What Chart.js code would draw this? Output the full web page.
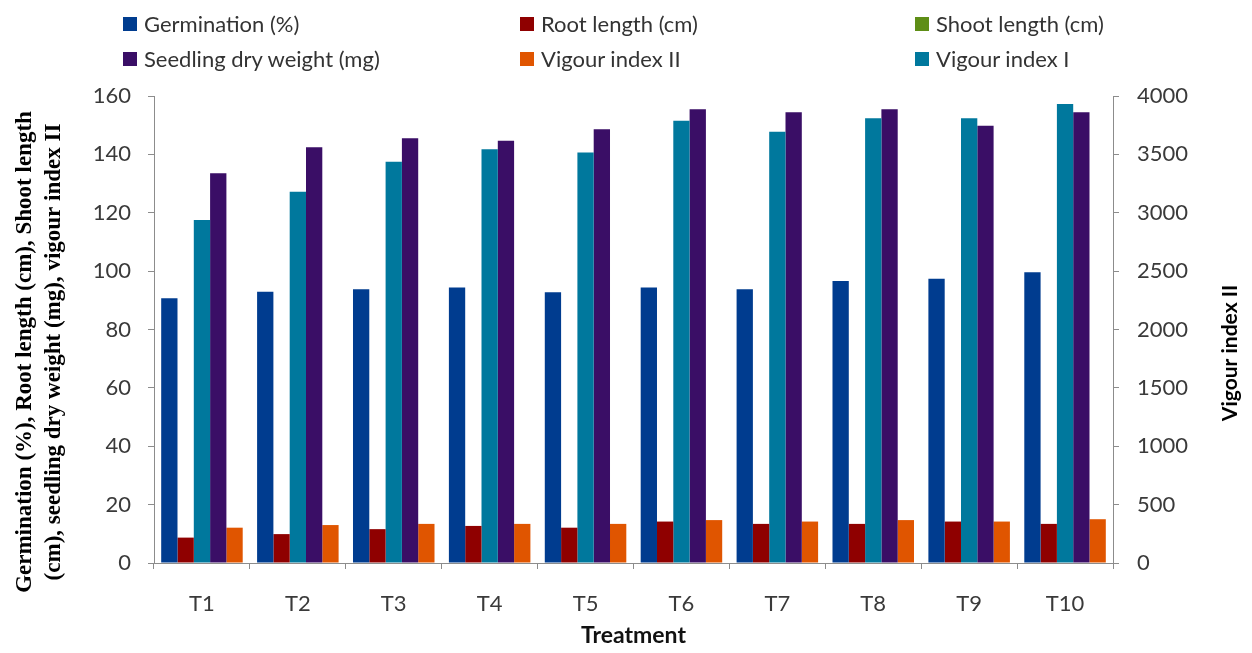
<!DOCTYPE html>
<html>
<head>
<meta charset="utf-8">
<script src="https://cdn.jsdelivr.net/npm/chart.js@4"></script>
<style>
  body { margin: 0; background: #fff; }
  #wrap { position: relative; width: 1252px; height: 653px; }
  #legend { position: absolute; left: 0; top: 0; width: 1252px; height: 80px; font-family: Lato, sans-serif; font-size: 22px; color: #333; }
  .item { position: absolute; display: flex; align-items: center; white-space: nowrap; }
  .box { width: 14px; height: 14px; margin-right: 7px; }
</style>
</head>
<body>
<div id="wrap">
  <canvas id="myChart" width="1252" height="653"></canvas>
  <div id="legend"></div>
</div>
<script>
const labels = ['T1', 'T2', 'T3', 'T4', 'T5', 'T6', 'T7', 'T8', 'T9', 'T10']
const germination = [90.7, 92.9, 93.8, 94.4, 92.8, 94.4, 93.8, 96.6, 97.4, 99.6]
const rootLength = [8.7, 9.9, 11.6, 12.7, 12.1, 14.2, 13.4, 13.4, 14.2, 13.4]
const shootLength = [null, null, null, null, null, null, null, null, null, null]
const vigourIndexI = [2938, 3180, 3437, 3543, 3515, 3789, 3694, 3809, 3809, 3931]
const dryWeight = [133.5, 142.4, 145.5, 144.7, 148.6, 155.5, 154.4, 155.5, 149.8, 154.4]
const vigourIndexII = [12.1, 13.0, 13.4, 13.4, 13.4, 14.7, 14.2, 14.7, 14.2, 15.0]
const leftTicks = [0, 20, 40, 60, 80, 100, 120, 140, 160]
const rightTicks = [0, 500, 1000, 1500, 2000, 2500, 3000, 3500, 4000]

const axisColor = '#8c8c8c'
const textColor = '#3a3a3a'

// legend slots: [dataset label, left, top]
const legendSlots = [
  ['Germination (%)', 123, 10],
  ['Root length (cm)', 520, 10],
  ['Shoot length (cm)', 915, 10],
  ['Seedling dry weight (mg)', 123, 45],
  ['Vigour index II', 520, 45],
  ['Vigour index I', 915, 45]
]

const axisTitles = {
  id: 'axisTitles',
  afterDraw(chart) {
    const ctx = chart.ctx
    ctx.save()
    ctx.fillStyle = '#000'
    ctx.textAlign = 'center'
    ctx.textBaseline = 'middle'
    ctx.font = 'bold 23px "Liberation Serif", serif'
    ctx.save()
    ctx.translate(25, 352)
    ctx.rotate(-Math.PI / 2)
    ctx.fillText('Germination (%), Root length (cm), Shoot length', 0, 0)
    ctx.restore()
    ctx.save()
    ctx.translate(54, 352)
    ctx.rotate(-Math.PI / 2)
    ctx.fillText('(cm), seedling dry weight (mg), vigour index II', 0, 0)
    ctx.restore()
    ctx.font = 'bold 21px Lato, sans-serif'
    ctx.translate(1230, 353)
    ctx.rotate(-Math.PI / 2)
    ctx.fillText('Vigour index II', 0, 0)
    ctx.restore()
  }
}

const ctx = document.getElementById('myChart').getContext('2d')
const chart = new Chart(ctx, {
  type: 'bar',
  data: {
    labels: labels,
    datasets: [
      { label: 'Germination (%)', data: germination, backgroundColor: '#003c8f', yAxisID: 'y' },
      { label: 'Root length (cm)', data: rootLength, backgroundColor: '#8f0000', yAxisID: 'y' },
      { label: 'Shoot length (cm)', data: shootLength, backgroundColor: '#5e8e16', yAxisID: 'y' },
      { label: 'Vigour index I', data: vigourIndexI, backgroundColor: '#00789d', yAxisID: 'y1' },
      { label: 'Seedling dry weight (mg)', data: dryWeight, backgroundColor: '#3a0e66', yAxisID: 'y' },
      { label: 'Vigour index II', data: vigourIndexII, backgroundColor: '#e05500', yAxisID: 'y' }
    ]
  },
  options: {
    responsive: false,
    animation: false,
    skipNull: true,
    datasets: { bar: { categoryPercentage: 0.85, barPercentage: 1.0 } },
    layout: { padding: { top: 96, left: 0, right: 0, bottom: 0 } },
    plugins: { legend: { display: false }, tooltip: { enabled: false } },
    scales: {
      x: {
        afterFit: (s) => { s.height = 90 },
        grid: { display: true, drawOnChartArea: false, tickLength: 6, color: axisColor, offset: true },
        border: { color: axisColor },
        ticks: { color: textColor, font: { family: 'Lato', size: 22 }, padding: 22 },
        title: { display: true, text: 'Treatment', color: '#111', font: { family: 'Lato', size: 23, weight: 'bold' }, padding: { top: 0, bottom: 4 } }
      },
      y: {
        position: 'left',
        min: 0,
        max: 160,
        afterFit: (s) => { s.width = 154 },
        afterBuildTicks: (s) => { s.ticks = leftTicks.map(v => ({ value: v })) },
        grid: { display: true, drawOnChartArea: false, tickLength: 6, color: axisColor },
        border: { color: axisColor },
        ticks: { color: textColor, font: { family: 'Lato', size: 22 }, padding: 17 }
      },
      y1: {
        position: 'right',
        min: 0,
        max: 4000,
        afterFit: (s) => { s.width = 139 },
        afterBuildTicks: (s) => { s.ticks = rightTicks.map(v => ({ value: v })) },
        grid: { display: true, drawOnChartArea: false, tickLength: 6, color: axisColor },
        border: { color: axisColor },
        ticks: { color: textColor, font: { family: 'Lato', size: 22 }, padding: 18, callback: (v) => String(v) }
      }
    }
  },
  plugins: [axisTitles]
})

const legend = document.getElementById('legend')
legendSlots.forEach(slot => {
  const ds = chart.data.datasets.find(d => d.label === slot[0])
  const item = document.createElement('div')
  item.className = 'item'
  item.style.left = slot[1] + 'px'
  item.style.top = slot[2] + 'px'
  item.innerHTML = '<span class="box" style="background:' + ds.backgroundColor + '"></span><span>' + ds.label + '</span>'
  legend.appendChild(item)
})
</script>
</body>
</html>
